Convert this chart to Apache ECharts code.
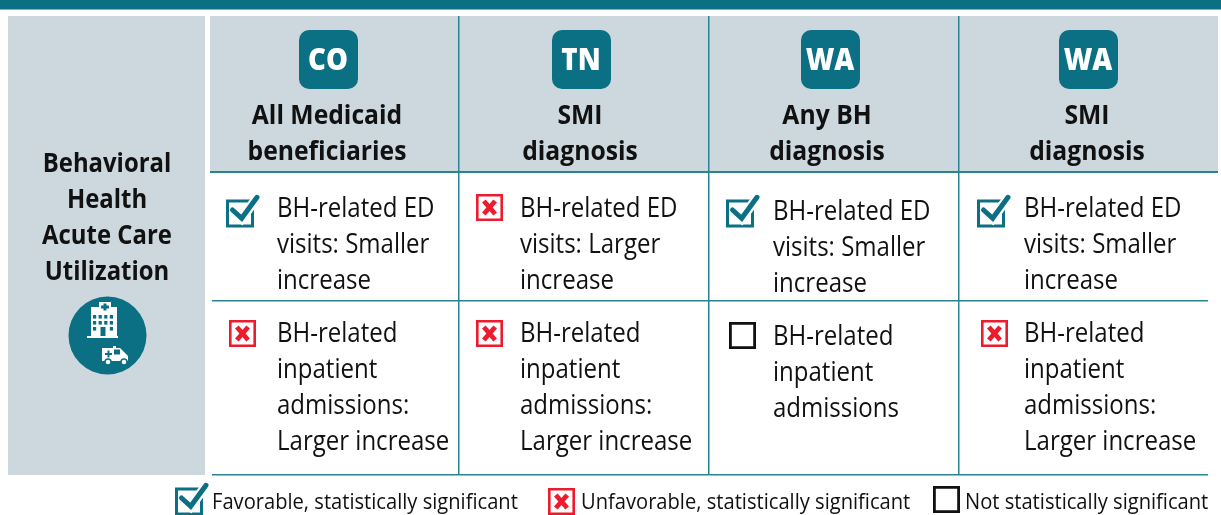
<!DOCTYPE html>
<html><head><meta charset="utf-8">
<style>html,body{margin:0;padding:0;background:#fff}#c{width:1221px;height:515px}</style>
<script src="https://cdn.jsdelivr.net/npm/echarts@6/dist/echarts.min.js"></script>
</head><body><div id="c"></div>
<script>
const sideTitle = ['Behavioral','Health','Acute Care','Utilization'];
const states = ['CO','TN','WA','WA'];
const populations = [['All Medicaid','beneficiaries'],['SMI','diagnosis'],['Any BH','diagnosis'],['SMI','diagnosis']];
const edResults = ['fav','unfav','fav','fav'];
const edTexts = [['BH-related ED','visits: Smaller','increase'],['BH-related ED','visits: Larger','increase'],['BH-related ED','visits: Smaller','increase'],['BH-related ED','visits: Smaller','increase']];
const ipResults = ['unfav','unfav','ns','unfav'];
const ipTexts = [['BH-related','inpatient','admissions:','Larger increase'],['BH-related','inpatient','admissions:','Larger increase'],['BH-related','inpatient','admissions'],['BH-related','inpatient','admissions:','Larger increase']];
const legendLabels = ['Favorable, statistically significant','Unfavorable, statistically significant','Not statistically significant'];
const legendKinds = ['fav','unfav','ns'];

const TEAL='#0b7083', LINE='#2a8391', PANEL='#cdd7de', RED='#ec1c2e', INK='#111111';
const FONT='"Open Sans"', SX=0.89;
const g=[];
function rect(x,y,w,h,fill,r){g.push({type:'rect',shape:{x,y,width:w,height:h,r:r||0},style:{fill}});}
function text(s,x,base,size,o){o=o||{};
  g.push({type:'text',x,y:base-size*0.36,scaleX:o.sx||SX,z:5,style:{text:s,x:0,y:0,fill:o.fill||INK,font:(o.weight||400)+' '+size+'px '+FONT,align:o.align||'left',verticalAlign:'middle'}});}
function strokeRect(x,y,w,h,color,lw){g.push({type:'rect',shape:{x:x+lw/2,y:y+lw/2,width:w-lw,height:h-lw},style:{fill:'#fff',stroke:color,lineWidth:lw}});}
function check(x,y){
  g.push({type:'rect',shape:{x:x+1.5,y:y+6,width:25,height:25},style:{fill:'none',stroke:TEAL,lineWidth:3}});
  g.push({type:'polyline',shape:{points:[[x+6,y+14],[x+15.7,y+23.3],[x+31.3,y+2.3]]},style:{fill:'none',stroke:'#fff',lineWidth:9.5}});
  g.push({type:'polyline',shape:{points:[[x+6.5,y+15],[x+15.7,y+23.3],[x+31,y+2.3]]},style:{fill:'none',stroke:TEAL,lineWidth:5,lineCap:'round'}});
}
function cross(x,y,s){
  strokeRect(x,y,s,s,RED,2.6);
  const a=x+s*0.29,b=x+s*0.71,c=y+s*0.26,d=y+s*0.74;
  g.push({type:'line',shape:{x1:a,y1:c,x2:b,y2:d},style:{stroke:RED,lineWidth:4.8}});
  g.push({type:'line',shape:{x1:b,y1:c,x2:a,y2:d},style:{stroke:RED,lineWidth:4.8}});
}
function icon(kind,x,y){ if(kind==='fav')check(x,y); else if(kind==='unfav')cross(x,y,27); else strokeRect(x,y,27,27,'#111',2.8); }

// frame
rect(0,0,1221,9,TEAL); rect(0,9,1221,1,'#7fb3bd');
rect(8,16,197,459,PANEL); rect(210,16,1008,155,PANEL);
rect(210,171,1008,2,LINE); rect(212,300,996,1.5,LINE); rect(212,474,996,1.5,LINE);
[458,708,958].forEach(x=>rect(x,16,1.5,458,LINE));

// side panel
sideTitle.forEach((s,i)=>text(s,107,174+36*i,27,{weight:700,align:'center',sx:0.885}));
g.push({type:'circle',shape:{cx:107.5,cy:335.5,r:39},style:{fill:TEAL}});
// hospital glyph
rect(91,307,26,29,'#fff'); rect(87,336,31,2,'#fff'); rect(99,302,12,8,'#fff');
rect(103.5,303.5,3,7,TEAL); rect(101,305.5,8,3,TEAL);
[0,1,2,3].forEach(c=>[0,1,2].forEach(r=>{ if(!(r===2&&(c===1||c===2))) rect(93+c*5.6,315+r*6,3.2,3.6,TEAL);}));
rect(100.5,327,5,9,TEAL);
// ambulance glyph
g.push({type:'polygon',shape:{points:[[102,348],[120,348],[128,356],[128,361],[102,361]]},style:{fill:'#fff'}});
rect(114,349.5,6,5,TEAL); rect(105,353,7,2,TEAL); rect(107.5,350.5,2,7,TEAL);
rect(113,346,3,2,'#fff');
[[108,362],[124,362]].forEach(p=>{g.push({type:'circle',shape:{cx:p[0],cy:p[1],r:3},style:{fill:'#fff',stroke:TEAL,lineWidth:1.5}});});

// columns
const badgeX=[299,552,801,1059], popX=[327,580,827,1087], textX=[277,520,773,1024];
const edIcon=[[226,195],[476,194],[726,195],[977,195]], ipIcon=[[229,320],[476,320],[729,322],[981,320]];
const edBase=[219,219,222,219], ipBase=[344,344,347,344];
states.forEach((st,i)=>{
  rect(badgeX[i],30,59,59,TEAL,10);
  text(st,badgeX[i]+29,72,30,{weight:800,fill:'#fff',align:'center',sx:0.92});
  populations[i].forEach((s,k)=>text(s,popX[i],126+36*k,27,{weight:700,align:'center',sx:0.915}));
  icon(edResults[i],edIcon[i][0],edIcon[i][1]);
  edTexts[i].forEach((s,k)=>text(s,textX[i],edBase[i]+36*k,27));
  icon(ipResults[i],ipIcon[i][0],ipIcon[i][1]);
  ipTexts[i].forEach((s,k)=>text(s,textX[i],ipBase[i]+36*k,27));
});

// legend
const legIcon=[[175,483],[548,488],[933,486]], legText=[212,581,965];
legendLabels.forEach((s,i)=>{ icon(legendKinds[i],legIcon[i][0],legIcon[i][1]); text(s,legText[i],511,22,{sx:0.915}); });

const chart=echarts.init(document.getElementById('c'),null,{renderer:'canvas'});
chart.setOption({animation:false,backgroundColor:'#fff',graphic:{elements:g}});
</script></body></html>
